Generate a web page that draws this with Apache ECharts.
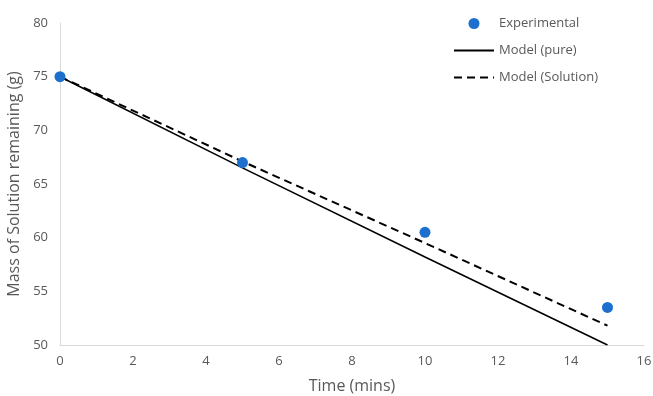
<!DOCTYPE html>
<html>
<head>
<meta charset="utf-8">
<script src="https://cdn.jsdelivr.net/npm/echarts@6/dist/echarts.min.js"></script>
<style>
  html, body { margin: 0; padding: 0; background: #fff; }
  #chart { width: 653px; height: 396px; }
</style>
</head>
<body>
<div id="chart"></div>
<script>
// Measured masses and the two model curves (minutes, grams)
const expTime = [0, 5, 10, 15];
const expMass = [75, 67, 60.5, 53.5];
const modelTime = [0, 5, 10, 15];
const pureMass = [75, 66.5, 58.2, 50];
const solutionMass = [75, 67.1, 59.5, 51.8];

const pairs = (xs, ys) => xs.map((x, i) => [x, ys[i]]);
const FONT = '"Open Sans", "Noto Sans", sans-serif';
const GREY = '#595959';
const BLUE = '#1c6fcc';

const chart = echarts.init(document.getElementById('chart'));
chart.setOption({
  animation: false,
  textStyle: { fontFamily: FONT },
  grid: { left: 60, right: 9, top: 23, bottom: 51, outerBoundsMode: 'none', containLabel: false },
  legend: {
    orient: 'vertical',
    left: 448,
    top: 12,
    itemWidth: 40,
    itemHeight: 11,
    itemGap: 14,
    textStyle: { color: GREY, fontSize: 13, fontFamily: FONT },
    data: [
      { name: 'Experimental', icon: 'circle', itemStyle: { color: BLUE, opacity: 1 } },
      { name: 'Model (pure)', itemStyle: { opacity: 0 } },
      { name: 'Model (Solution)', itemStyle: { opacity: 0 } }
    ]
  },
  xAxis: {
    type: 'value',
    min: 0, max: 16, interval: 2,
    name: 'Time (mins)',
    nameLocation: 'middle',
    nameGap: 33,
    nameTextStyle: { color: GREY, fontSize: 16, fontFamily: FONT },
    axisLine: { show: true, lineStyle: { color: '#d9d9d9', width: 1 } },
    axisTick: { show: false },
    splitLine: { show: false },
    axisLabel: { color: GREY, fontSize: 13, margin: 10 }
  },
  yAxis: {
    type: 'value',
    min: 50, max: 80, interval: 5,
    name: 'Mass of Solution remaining (g)',
    nameLocation: 'middle',
    nameGap: 34,
    nameTextStyle: { color: GREY, fontSize: 16, fontFamily: FONT },
    axisLine: { show: true, lineStyle: { color: '#d9d9d9', width: 1 } },
    axisTick: { show: false },
    splitLine: { show: false },
    axisLabel: { color: GREY, fontSize: 13, margin: 12 }
  },
  series: [
    {
      name: 'Model (pure)',
      type: 'line',
      data: pairs(modelTime, pureMass),
      showSymbol: false,
      symbol: 'none',
      lineStyle: { color: '#000', width: 1.6, type: 'solid' },
      itemStyle: { color: '#000' },
      z: 2
    },
    {
      name: 'Model (Solution)',
      type: 'line',
      data: pairs(modelTime, solutionMass),
      showSymbol: false,
      symbol: 'none',
      lineStyle: { color: '#000', width: 2, type: [8, 5] },
      itemStyle: { color: '#000' },
      z: 2
    },
    {
      name: 'Experimental',
      type: 'scatter',
      data: pairs(expTime, expMass),
      symbol: 'circle',
      symbolSize: 11,
      itemStyle: { color: BLUE, opacity: 1 },
      z: 3
    }
  ]
});
</script>
</body>
</html>
